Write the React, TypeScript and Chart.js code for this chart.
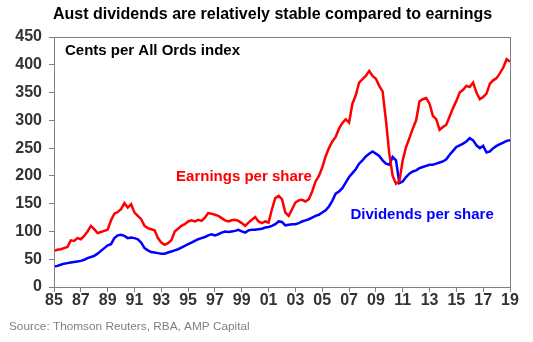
import React, { useEffect, useRef } from "react";
import { Chart, registerables } from "chart.js";

Chart.register(...registerables);

const TITLE = "Aust dividends are relatively stable compared to earnings";
const UNIT_LABEL = "Cents per All Ords index";
const SOURCE = "Source: Thomson Reuters, RBA, AMP Capital";
const EARN_LABEL = "Earnings per share";
const DIV_LABEL = "Dividends per share";

const START_YEAR = 1985;
const END_YEAR = 2019;
const X_TICK_LABELS = ["85", "87", "89", "91", "93", "95", "97", "99", "01", "03", "05", "07", "09", "11", "13", "15", "17", "19"];
const Y_MIN = 0;
const Y_MAX = 450;
const Y_STEP = 50;

// quarterly readings, 1985 Q1 .. 2019 Q1
const earnings = [
  65, 67, 68, 70,
  72, 84, 83, 88,
  86, 92, 100, 110,
  104, 97, 99, 101,
  103, 120, 132, 135,
  140, 151, 143, 149,
  134, 128, 122, 110,
  106, 104, 102, 88,
  80, 76, 79, 84,
  100, 105, 110, 113,
  118, 120, 118, 121,
  119, 125, 133, 132,
  130, 128, 124, 120,
  118, 120, 121, 119,
  115, 110, 116, 121,
  126, 118, 115, 118,
  116, 140, 160, 164,
  158, 134, 128, 140,
  152, 156, 157, 154,
  158, 172, 190, 200,
  215, 235, 250, 262,
  270, 285, 295, 302,
  296, 330, 345, 368,
  374, 380, 389, 380,
  375, 362, 352, 300,
  240, 200, 186, 190,
  228, 252, 268, 285,
  300, 334, 338, 340,
  330, 308, 302, 283,
  288, 292, 307, 322,
  335, 350, 355, 362,
  360, 368, 350, 338,
  342, 348, 366, 372,
  376, 385, 395, 410,
  406,
];

const dividends = [
  37, 38, 40, 42,
  43, 44, 45, 46,
  47, 49, 52, 54,
  56, 60, 65, 70,
  75, 77, 88, 93,
  94, 92, 88, 89,
  88, 86, 80, 70,
  66, 63, 62, 61,
  60, 60, 62, 64,
  66, 68, 71, 74,
  77, 80, 83, 86,
  88, 90, 93, 95,
  93, 95, 98, 100,
  99, 100, 101, 103,
  100, 98, 102, 103,
  103, 104, 105, 107,
  108, 110, 113, 118,
  117, 111, 112, 113,
  113, 115, 118, 120,
  122, 125, 128, 130,
  134, 138, 145, 155,
  168, 172, 178, 188,
  198, 205, 212, 222,
  228, 235, 240, 244,
  240, 236, 228, 222,
  220, 234, 228, 187,
  190, 198, 204, 208,
  210, 214, 216, 218,
  220, 220, 222, 224,
  226, 230, 238, 245,
  252, 255, 258, 262,
  268, 264, 255, 250,
  254, 242, 244, 250,
  254, 257, 260, 263,
  264,
];

const FONT = "'Liberation Sans', Arial, sans-serif";

const textPlugin = {
  id: "chartTexts",
  afterDraw(chart: any) {
    const { ctx, chartArea } = chart;
    const xs = chart.scales.x;
    const ys = chart.scales.y;
    ctx.save();
    // frame
    ctx.strokeStyle = "#808080";
    ctx.lineWidth = 1;
    ctx.strokeRect(chartArea.left + 0.5, chartArea.top + 0.5, chartArea.right - chartArea.left, chartArea.bottom - chartArea.top);

    ctx.textBaseline = "middle";
    ctx.textAlign = "left";
    // title
    ctx.fillStyle = "#000";
    ctx.font = `bold 16px ${FONT}`;
    ctx.fillText(TITLE, 53, 15);

    ctx.font = `bold 15px ${FONT}`;
    ctx.fillText(UNIT_LABEL, 65, 51);

    ctx.fillStyle = "#ff0000";
    ctx.font = `bold 15px ${FONT}`;
    ctx.fillText(EARN_LABEL, xs.getPixelForValue(1994.1), ys.getPixelForValue(199));

    ctx.fillStyle = "#0000ff";
    ctx.fillText(DIV_LABEL, xs.getPixelForValue(2007.1), ys.getPixelForValue(130));

    ctx.fillStyle = "#808080";
    ctx.font = `11.8px ${FONT}`;
    ctx.fillText(SOURCE, 9, 327);
    ctx.restore();
  },
};

export default function App() {
  const ref = useRef<HTMLCanvasElement | null>(null);

  useEffect(() => {
    document.body.style.margin = "0";
    const quarters = earnings.map((_, i) => START_YEAR + i / 4);
    const chart = new Chart(ref.current as HTMLCanvasElement, {
      type: "line",
      data: {
        datasets: [
          {
            label: EARN_LABEL,
            data: earnings.map((v, i) => ({ x: quarters[i], y: v })),
            borderColor: "#ff0000",
            borderWidth: 2.5,
            pointRadius: 0,
            tension: 0,
          },
          {
            label: DIV_LABEL,
            data: dividends.map((v, i) => ({ x: quarters[i], y: v })),
            borderColor: "#0000ff",
            borderWidth: 2.5,
            pointRadius: 0,
            tension: 0,
          },
        ],
      },
      options: {
        animation: false,
        responsive: false,
        events: [],
        layout: { padding: { left: 0, right: 23, top: 37, bottom: 0 } },
        plugins: { legend: { display: false }, title: { display: false }, tooltip: { enabled: false } },
        scales: {
          x: {
            type: "linear",
            min: START_YEAR,
            max: END_YEAR,
            ticks: {
              stepSize: 2,
              autoSkip: false,
              maxRotation: 0,
              padding: -1,
              color: "#333",
              font: { family: FONT, size: 16, weight: "bold" },
              callback: (v: any) => X_TICK_LABELS[Math.round((Number(v) - START_YEAR) / 2)] ?? "",
            },
            grid: { drawOnChartArea: false, tickLength: 5, color: "#808080" },
            border: { color: "#808080" },
            afterFit: (s: any) => { s.height = 55; },
          },
          y: {
            min: Y_MIN,
            max: Y_MAX,
            ticks: {
              stepSize: Y_STEP,
              padding: 7,
              color: "#333",
              font: { family: FONT, size: 16, weight: "bold" },
            },
            grid: { drawOnChartArea: false, tickLength: 5, color: "#808080" },
            border: { color: "#808080" },
            afterFit: (s: any) => { s.width = 54; },
          },
        },
      },
      plugins: [textPlugin],
    });
    return () => chart.destroy();
  }, []);

  return (
    <div style={{ position: "absolute", left: 0, top: 0, width: 533, height: 342, background: "#fff" }}>
      <canvas ref={ref} width={533} height={342} />
    </div>
  );
}
